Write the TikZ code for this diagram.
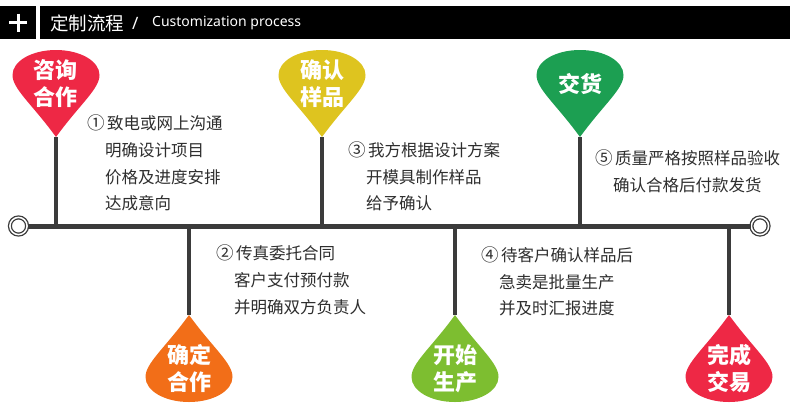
\documentclass[tikz,border=0pt]{standalone}
\usepackage{fontspec}
\setmainfont{Noto Sans}
\newfontfamily\cjk{Noto Sans CJK SC}
\definecolor{cRed}{HTML}{EE2845}
\definecolor{cYellow}{HTML}{DEC41F}
\definecolor{cGreen}{HTML}{1C9F52}
\definecolor{cOrange}{HTML}{F26E18}
\definecolor{cLime}{HTML}{7DBE30}
\definecolor{lineGray}{HTML}{3B3B3B}
\definecolor{txtGray}{HTML}{2E2E2E}
\newcommand\dropshape{(0,0) .. controls (-24,-33) and (-43.5,-48) .. (-43.5,-62)
  .. controls (-43.5,-76) and (-24,-87) .. (0,-87)
  .. controls (24,-87) and (43.5,-76) .. (43.5,-62)
  .. controls (43.5,-48) and (24,-33) .. (0,0) -- cycle}
\tikzset{
  mainline/.style={draw=lineGray, line width=5pt},
  stem/.style={draw=lineGray, line width=3.5pt},
  ring/.style={circle, draw=lineGray, fill=white, line width=1.3pt, double=white,
    double distance=1.5pt, minimum size=17.2pt, inner sep=0pt},
  droptext/.style={text=white, inner sep=0pt, align=center,
    font=\cjk\bfseries\fontsize{22}{27}\selectfont},
  desc/.style={anchor=west, inner sep=0pt, text=txtGray,
    font=\cjk\fontsize{16.5}{20}\selectfont},
  headtext/.style={anchor=west, inner sep=0pt, text=white}
}
\newcommand\num[1]{\makebox[20pt][l]{\fontsize{17.5}{20}\selectfont #1}}
\begin{document}
\begin{tikzpicture}[x=1pt,y=-1pt]
\useasboundingbox (0,0) rectangle (790,408);
\fill[white] (0,0) rectangle (790,408);
% header
\fill[black] (0,6) rectangle (36,39);
\fill[black] (40,6) rectangle (790,39);
\draw[white, line width=3pt] (9,22.5) -- (27,22.5) (18,13.5) -- (18,31.5);
\node[headtext, font=\cjk\fontsize{18.5}{20}\selectfont] (title) at (50,23.5) {定制流程};
\node[headtext, font=\fontsize{17}{18}\selectfont] (slash) at (132,23.5) {/};
\node[headtext, font=\fontsize{14}{16}\selectfont] (en) at (152,23.5) {Customization process};
% coordinates
\coordinate (t1) at (56,137);  \coordinate (m1) at (56,226);
\coordinate (t3) at (322,137); \coordinate (m3) at (322,226);
\coordinate (t5) at (580,137); \coordinate (m5) at (580,226);
\coordinate (t2) at (189,315); \coordinate (m2) at (189,226);
\coordinate (t4) at (455,315); \coordinate (m4) at (455,226);
\coordinate (t6) at (729,315); \coordinate (m6) at (729,226);
% stems
\foreach \i in {1,...,6} { \draw[stem] (t\i) -- (m\i); }
% main line with rings
\node[ring] (L) at (18.5,226) {};
\node[ring] (R) at (760,226) {};
\draw[mainline] (L) -- (R);
% drops
\begin{scope}[shift={(t1)}] \fill[cRed] \dropshape; \end{scope}
\begin{scope}[shift={(t3)}] \fill[cYellow] \dropshape; \end{scope}
\begin{scope}[shift={(t5)}] \fill[cGreen] \dropshape; \end{scope}
\begin{scope}[shift={(t2)}, yscale=-1] \fill[cOrange] \dropshape; \end{scope}
\begin{scope}[shift={(t4)}, yscale=-1] \fill[cLime] \dropshape; \end{scope}
\begin{scope}[shift={(t6)}, yscale=-1] \fill[cRed] \dropshape; \end{scope}
% drop labels
\node[droptext] (d1a) at (56,70) {咨询};
\node[droptext] (d1b) at (56,97) {合作};
\node[droptext] (d3a) at (322,70) {确认};
\node[droptext] (d3b) at (322,97) {样品};
\node[droptext] (d5) at (580,84) {交货};
\node[droptext] (d2a) at (189,355) {确定};
\node[droptext] (d2b) at (189,382) {合作};
\node[droptext] (d4a) at (455,355) {开始};
\node[droptext] (d4b) at (455,382) {生产};
\node[droptext] (d6a) at (729,355) {完成};
\node[droptext] (d6b) at (729,382) {交易};
% descriptions
\node[desc] (n1a) at (87,123) {\num{①}致电或网上沟通};
\node[desc] (n1b) at (105,150) {明确设计项目};
\node[desc] (n1c) at (105,177) {价格及进度安排};
\node[desc] (n1d) at (105,203) {达成意向};
\node[desc] (n2a) at (216,253) {\num{②}传真委托合同};
\node[desc] (n2b) at (234,280) {客户支付预付款};
\node[desc] (n2c) at (234,307) {并明确双方负责人};
\node[desc] (n3a) at (348,150) {\num{③}我方根据设计方案};
\node[desc] (n3b) at (366,177) {开模具制作样品};
\node[desc] (n3c) at (366,203) {给予确认};
\node[desc] (n4a) at (481,255) {\num{④}待客户确认样品后};
\node[desc] (n4b) at (499,282) {急卖是批量生产};
\node[desc] (n4c) at (499,308) {并及时汇报进度};
\node[desc] (n5a) at (595,158) {\num{⑤}质量严格按照样品验收};
\node[desc] (n5b) at (613,185) {确认合格后付款发货};
\end{tikzpicture}
\end{document}
